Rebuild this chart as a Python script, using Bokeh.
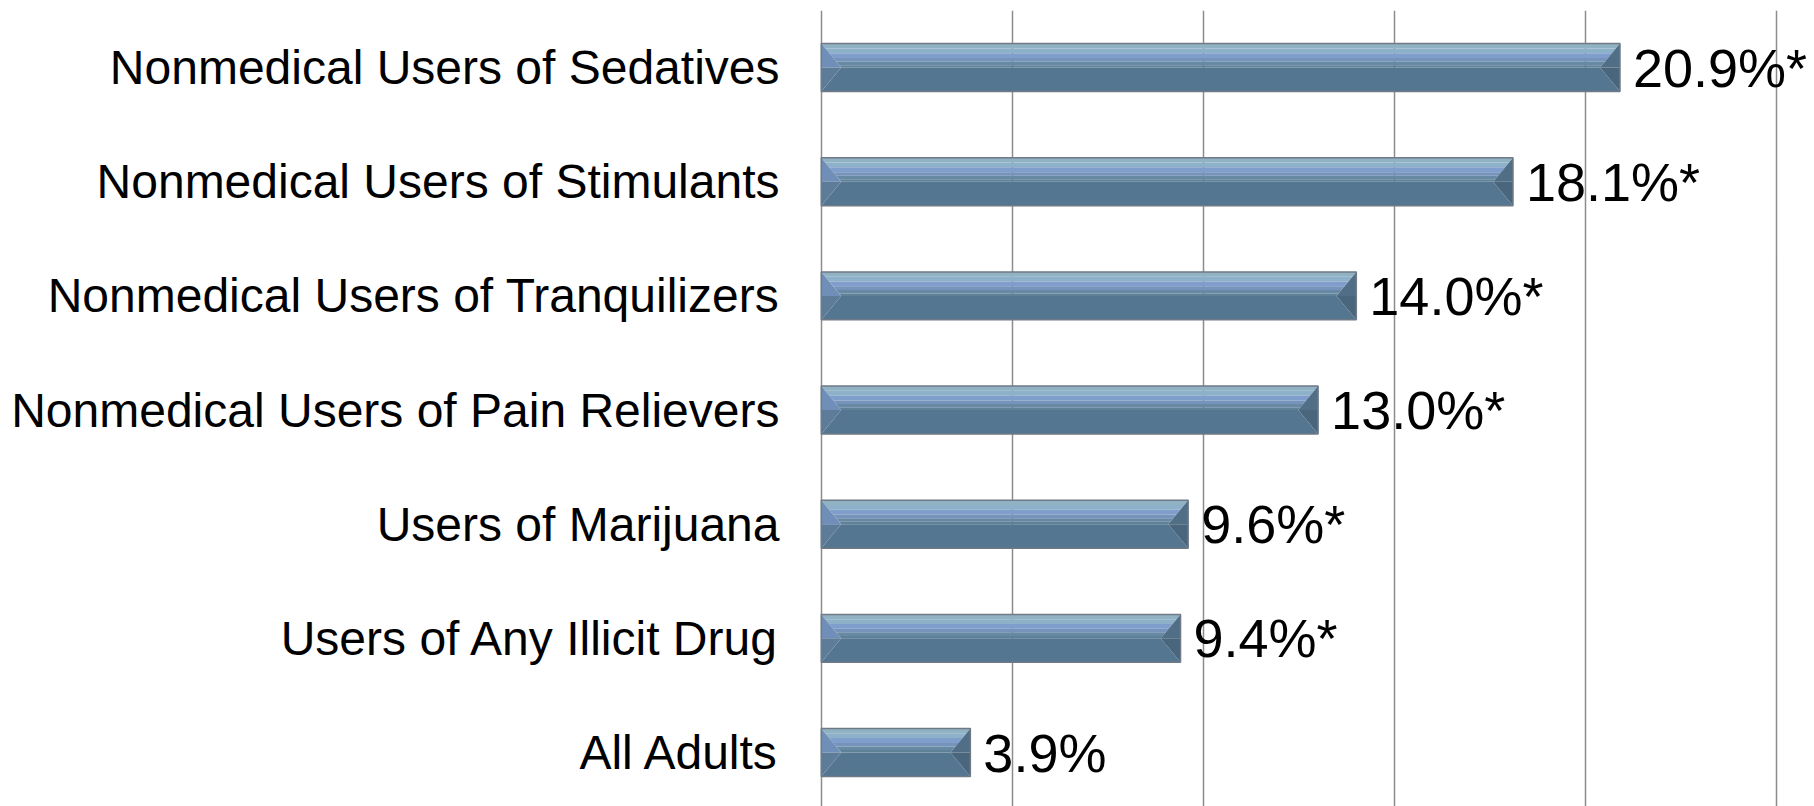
from bokeh.plotting import figure
from bokeh.models import ColumnDataSource, Range1d, FixedTicker, Grid, LinearAxis
from bokeh.core.properties import value
from bokeh.embed import file_html
from bokeh.resources import INLINE

# ---- data (top to bottom) ----
categories = [
    "Nonmedical Users of Sedatives",
    "Nonmedical Users of Stimulants",
    "Nonmedical Users of Tranquilizers",
    "Nonmedical Users of Pain Relievers",
    "Users of Marijuana",
    "Users of Any Illicit Drug",
    "All Adults",
]
percentages = [20.9, 18.1, 14.0, 13.0, 9.6, 9.4, 3.9]
significant = [True, True, True, True, True, True, False]
grid_ticks = [0, 5, 10, 15, 20, 25]

n = len(categories)
ypos = [n - 1 - i for i in range(n)]  # top category highest
labels = [f"{v:.1f}%" + ("*" if s else "") for v, s in zip(percentages, significant)]

FONT = "Liberation Sans"

p = figure(width=1814, height=806, output_backend="svg", toolbar_location=None,
           x_range=Range1d(-0.1, 25.99), y_range=Range1d(-0.473, 6.5),
           x_axis_location=None, y_axis_location=None,
           min_border_left=817, min_border_right=0, min_border_top=10, min_border_bottom=0)
p.outline_line_color = None
p.background_fill_color = "white"
p.border_fill_color = "white"
for g in p.grid:
    g.visible = False

# gridlines
p.add_layout(Grid(dimension=0, ticker=FixedTicker(ticks=grid_ticks),
                  grid_line_color="#8c8c8c", grid_line_width=1.5))

# y axis with category labels
yaxis = LinearAxis(ticker=FixedTicker(ticks=ypos),
                   major_label_overrides={y: c for y, c in zip(ypos, categories)})
yaxis.axis_line_color = None
yaxis.major_tick_line_color = None
yaxis.minor_tick_line_color = None
yaxis.major_label_standoff = 32
yaxis.major_label_text_font = FONT
yaxis.major_label_text_font_size = "48px"
yaxis.major_label_text_color = "black"
p.add_layout(yaxis, "left")

# ---- bevelled bars ----
h = 0.42
hh = h / 2
b = 0.52
top_strips = [
    (0.0, 0.2, "#90b2c2"),
    (0.2, 0.4, "#8db1c9"),
    (0.4, 0.6, "#809ecb"),
    (0.6, 0.75, "#7593bb"),
    (0.75, 0.9, "#6889a4"),
    (0.9, 1.0, "#5e8197"),
]
xs, ys, cols = [], [], []
for v, yc in zip(percentages, ypos):
    L, R = 0.0, v
    T, B, C = yc + hh, yc - hh, yc
    # bottom half
    xs.append([L, R, R - b, L + b]); ys.append([B, B, C, C]); cols.append("#557690")
    # top half gradient strips
    for fa, fb, col in top_strips:
        ya, yb = T - fa * hh, T - fb * hh
        xs.append([L + b * fa, R - b * fa, R - b * fb, L + b * fb])
        ys.append([ya, ya, yb, yb]); cols.append(col)
    # left bevel
    xs.append([L, L + b, L]); ys.append([T, C, C]); cols.append("#6f8eb8")
    xs.append([L, L + b, L]); ys.append([C, C, B]); cols.append("#5c7c9a")
    # right bevel
    xs.append([R, R - b, R]); ys.append([T, C, C]); cols.append("#516e87")
    xs.append([R, R - b, R]); ys.append([C, C, B]); cols.append("#4a667c")

p.patches(xs="xs", ys="ys", fill_color="cols", line_color=None,
          source=ColumnDataSource(dict(xs=xs, ys=ys, cols=cols)))

# outline
p.rect(x=[v / 2 for v in percentages], y=ypos, width=percentages, height=h,
       fill_color=None, line_color="#6f7a86", line_width=1.5)

# value labels
p.text(x=percentages, y=ypos, text=labels, x_offset=13, y_offset=0,
       text_baseline="middle", text_align="left",
       text_font=value(FONT), text_font_size="54px", text_color="black")

open("out.html", "w").write(file_html(p, INLINE))
